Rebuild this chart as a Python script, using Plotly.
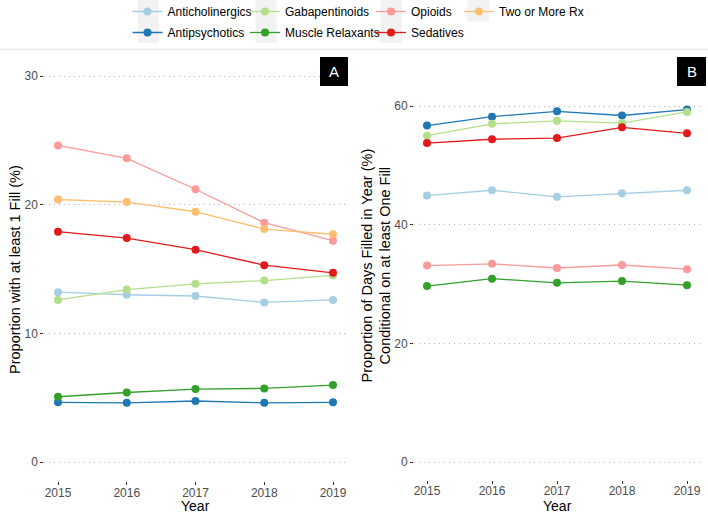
import plotly.graph_objects as go

years = [2015, 2016, 2017, 2018, 2019]
series_names = ["Anticholinergics", "Antipsychotics", "Gabapentinoids", "Muscle Relaxants",
                "Opioids", "Sedatives", "Two or More Rx"]
colors = ["#A6CEE3", "#1F78B4", "#B2DF8A", "#33A02C", "#FB9A99", "#E31A1C", "#FDBF6F"]

# Panel A: Proportion with at least 1 fill (%)
a_anticholinergics = [13.2, 13.0, 12.9, 12.4, 12.6]
a_antipsychotics = [4.64, 4.60, 4.74, 4.60, 4.64]
a_gabapentinoids = [12.6, 13.4, 13.85, 14.1, 14.5]
a_muscle_relaxants = [5.07, 5.4, 5.67, 5.72, 5.98]
a_opioids = [24.6, 23.6, 21.2, 18.6, 17.2]
a_sedatives = [17.9, 17.4, 16.5, 15.3, 14.7]
a_two_or_more = [20.4, 20.2, 19.45, 18.1, 17.7]

# Panel B: Proportion of days filled (%), conditional on at least one fill
b_anticholinergics = [44.9, 45.8, 44.7, 45.3, 45.8]
b_antipsychotics = [56.7, 58.2, 59.1, 58.4, 59.4]
b_gabapentinoids = [55.0, 57.0, 57.5, 57.1, 59.0]
b_muscle_relaxants = [29.65, 30.9, 30.2, 30.5, 29.8]
b_opioids = [33.1, 33.4, 32.7, 33.2, 32.5]
b_sedatives = [53.75, 54.4, 54.6, 56.4, 55.4]
b_two_or_more = [None, None, None, None, None]

a_values = [a_anticholinergics, a_antipsychotics, a_gabapentinoids, a_muscle_relaxants,
            a_opioids, a_sedatives, a_two_or_more]
b_values = [b_anticholinergics, b_antipsychotics, b_gabapentinoids, b_muscle_relaxants,
            b_opioids, b_sedatives, b_two_or_more]

a_ticks = [0, 10, 20, 30]
b_ticks = [0, 20, 40, 60]

W, H = 708, 514
def px(x):
    return x / W
def py(y):
    return 1 - y / H

# legend column assignment (column-major like ggplot)
legend_ids = ["legend", "legend", "legend2", "legend2", "legend3", "legend3", "legend4"]

fig = go.Figure()
for name, col, va, vb, lg in zip(series_names, colors, a_values, b_values, legend_ids):
    fig.add_trace(go.Scatter(x=years, y=va, name=name, mode="lines+markers",
                             line=dict(color=col, width=1.3), marker=dict(color=col, size=8),
                             xaxis="x", yaxis="y", legend=lg, legendgroup=name, showlegend=True))
    if any(v is not None for v in vb):
        fig.add_trace(go.Scatter(x=years, y=vb, name=name, mode="lines+markers",
                                 line=dict(color=col, width=1.3), marker=dict(color=col, size=8),
                                 xaxis="x2", yaxis="y2", legendgroup=name, showlegend=False))

font = "Liberation Sans, Arial, sans-serif"
axis_common = dict(ticks="outside", ticklen=3, tickwidth=1, tickcolor="#333333",
                   showline=False, zeroline=False, automargin=False,
                   tickfont=dict(size=12, color="#4d4d4d", family=font))
xaxis_extra = dict(ticklabelstandoff=-3)
grid = dict(showgrid=True, gridcolor="#b3b3b3", griddash="1px,4px", gridwidth=1)

legend_common = dict(orientation="v", yanchor="top", y=1.0 + 3 / H, xanchor="left",
                     bgcolor="rgba(0,0,0,0)", font=dict(size=12, color="#000000", family=font),
                     itemwidth=30, tracegroupgap=2, itemclick=False, itemdoubleclick=False)

fig.update_layout(
    width=W, height=H, margin=dict(l=0, r=0, t=0, b=0, autoexpand=False),
    paper_bgcolor="white", plot_bgcolor="white",
    font=dict(family=font),
    xaxis=dict(domain=[px(44.25), px(346.75)], range=[2014.8, 2019.2], tickvals=years,
               showgrid=False, anchor="y", **xaxis_extra, **axis_common),
    yaxis=dict(domain=[py(481.3), py(56.7)], range=[-1.5, 31.5], tickvals=a_ticks,
               anchor="x", **grid, **axis_common),
    xaxis2=dict(domain=[px(414), px(700)], range=[2014.8, 2019.2], tickvals=years,
                showgrid=False, anchor="y2", **xaxis_extra, **axis_common),
    yaxis2=dict(domain=[py(479.8), py(88.2)], range=[-3, 63], tickvals=b_ticks,
                anchor="x2", **grid, **axis_common),
    legend=dict(x=px(127.5), **legend_common),
    legend2=dict(x=px(245), **legend_common),
    legend3=dict(x=px(371), **legend_common),
    legend4=dict(x=px(459), **legend_common),
)

shapes = []
# faint separator line under legend
shapes.append(dict(type="line", xref="paper", yref="paper", x0=0, x1=1, y0=py(49.5), y1=py(49.5),
                   line=dict(color="#eeeeee", width=2), layer="below"))
# legend key backgrounds
for x0, x1, y1 in [(138, 159, 43), (255.5, 277, 43), (380.5, 402, 43), (467, 489, 21.5)]:
    shapes.append(dict(type="rect", xref="paper", yref="paper", x0=px(x0), x1=px(x1),
                       y0=py(y1), y1=py(0), fillcolor="#f2f2f2", line=dict(width=0), layer="below"))
# panel label boxes
for x0, x1 in [(320, 348), (677, 706)]:
    shapes.append(dict(type="rect", xref="paper", yref="paper", x0=px(x0), x1=px(x1),
                       y0=py(86), y1=py(57), fillcolor="#000000", line=dict(width=0)))
fig.update_layout(shapes=shapes)

title_font = dict(size=14.5, color="#000000", family=font)
year_font = dict(size=14, color="#000000", family=font)
anchor = dict(xref="paper", yref="paper", showarrow=False, xanchor="center", yanchor="middle")
annotations = [
    dict(text="A", x=px(334), y=py(71.5), font=dict(size=15, color="white", family=font), **anchor),
    dict(text="B", x=px(691.5), y=py(71.5), font=dict(size=15, color="white", family=font), **anchor),
    dict(text="Year", x=px(195.5), y=py(506), font=year_font, **anchor),
    dict(text="Year", x=px(557), y=py(506), font=year_font, **anchor),
    dict(text="Proportion with at least 1 Fill (%)", x=px(15), y=py(270), textangle=-90,
         font=title_font, **anchor),
    dict(text="Proportion of Days Filled in Year (%)<br>Conditional on at least One Fill",
         x=px(375.5), y=py(265), textangle=-90, font=title_font, **anchor),
]
fig.update_layout(annotations=annotations)

fig.write_html("out.html", config={"displayModeBar": False},
               post_script="document.body.style.margin='0';document.body.style.padding='0';")
